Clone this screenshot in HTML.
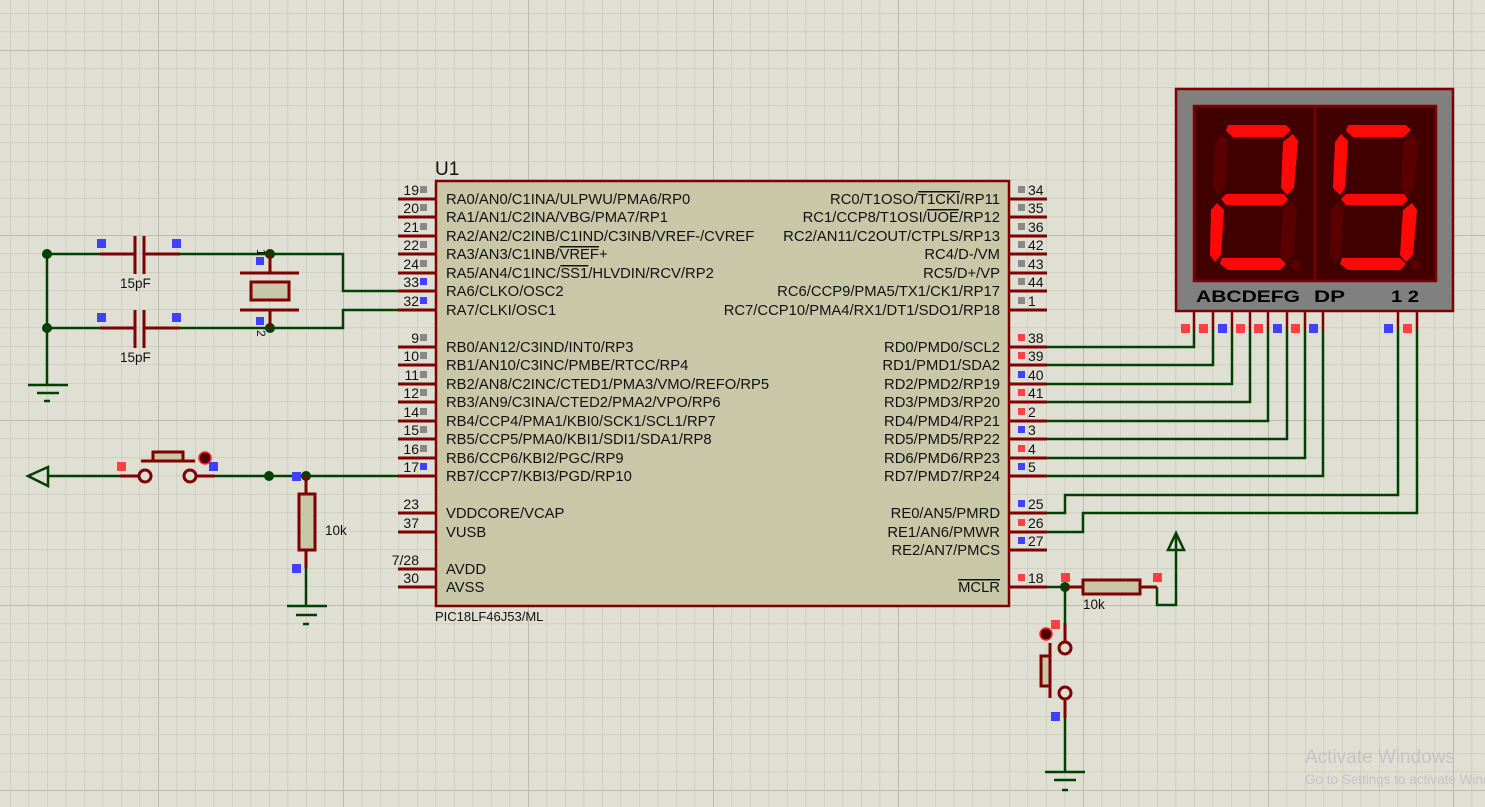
<!DOCTYPE html>
<html><head><meta charset="utf-8"><style>
html,body{margin:0;padding:0;background:#dfdfd3;}
svg{display:block;}
text{font-family:"Liberation Sans",Arial,sans-serif;fill:#111;}
</style></head><body>
<svg width="1485" height="807" viewBox="0 0 1485 807" xmlns="http://www.w3.org/2000/svg">
<defs>
<pattern id="g" x="10" y="13" width="18.5" height="18.5" patternUnits="userSpaceOnUse">
<path d="M0 0H18.5M0 0V18.5" stroke="#c6c6b8" stroke-width="1.3" fill="none"/>
</pattern>
<pattern id="G" x="158" y="50" width="185" height="185" patternUnits="userSpaceOnUse">
<path d="M0 0H185M0 0V185" stroke="#bcbcae" stroke-width="2" fill="none"/>
</pattern>
</defs>
<rect width="1485" height="807" fill="#dfdfd3"/>
<rect width="1485" height="807" fill="url(#g)"/>
<rect width="1485" height="807" fill="url(#G)"/>

<!-- chip -->
<rect x="436" y="181" width="573" height="425" fill="#c8c8a8" stroke="#7f0000" stroke-width="2.5"/>
<text x="435" y="175" font-size="19">U1</text>
<text x="435" y="621" font-size="13">PIC18LF46J53/ML</text>

<g stroke="#7f0000" stroke-width="3">
<path d="M398 199H436M398 217H436M398 236H436M398 254H436M398 273H436M398 291H436M398 310H436M398 347H436M398 365H436M398 384H436M398 402H436M398 421H436M398 439H436M398 458H436M398 476H436M398 513H436M398 532H436M398 569H436M398 587H436"/>
<path d="M1009 199H1047M1009 217H1047M1009 236H1047M1009 254H1047M1009 273H1047M1009 291H1047M1009 310H1047M1009 347H1047M1009 365H1047M1009 384H1047M1009 402H1047M1009 421H1047M1009 439H1047M1009 458H1047M1009 476H1047M1009 513H1047M1009 532H1047M1009 550H1047M1009 587H1047"/>
</g>

<g font-size="14.8">
<text x="446" y="204">RA0/AN0/C1INA/ULPWU/PMA6/RP0</text>
<text x="446" y="222">RA1/AN1/C2INA/VBG/PMA7/RP1</text>
<text x="446" y="241">RA2/AN2/C2INB/C1IND/C3INB/VREF-/CVREF</text>
<text x="446" y="259">RA3/AN3/C1INB/<tspan text-decoration="overline">VREF</tspan>+</text>
<text x="446" y="278">RA5/AN4/C1INC/<tspan text-decoration="overline">SS1</tspan>/HLVDIN/RCV/RP2</text>
<text x="446" y="296">RA6/CLKO/OSC2</text>
<text x="446" y="315">RA7/CLKI/OSC1</text>
<text x="446" y="352">RB0/AN12/C3IND/INT0/RP3</text>
<text x="446" y="370">RB1/AN10/C3INC/PMBE/RTCC/RP4</text>
<text x="446" y="389">RB2/AN8/C2INC/CTED1/PMA3/VMO/REFO/RP5</text>
<text x="446" y="407">RB3/AN9/C3INA/CTED2/PMA2/VPO/RP6</text>
<text x="446" y="426">RB4/CCP4/PMA1/KBI0/SCK1/SCL1/RP7</text>
<text x="446" y="444">RB5/CCP5/PMA0/KBI1/SDI1/SDA1/RP8</text>
<text x="446" y="463">RB6/CCP6/KBI2/PGC/RP9</text>
<text x="446" y="481">RB7/CCP7/KBI3/PGD/RP10</text>
<text x="446" y="518">VDDCORE/VCAP</text>
<text x="446" y="537">VUSB</text>
<text x="446" y="574">AVDD</text>
<text x="446" y="592">AVSS</text>
</g>
<g font-size="14.8" text-anchor="end">
<text x="1000" y="204">RC0/T1OSO/<tspan text-decoration="overline">T1CKI</tspan>/RP11</text>
<text x="1000" y="222">RC1/CCP8/T1OSI/<tspan text-decoration="overline">UOE</tspan>/RP12</text>
<text x="1000" y="241">RC2/AN11/C2OUT/CTPLS/RP13</text>
<text x="1000" y="259">RC4/D-/VM</text>
<text x="1000" y="278">RC5/D+/VP</text>
<text x="1000" y="296">RC6/CCP9/PMA5/TX1/CK1/RP17</text>
<text x="1000" y="315">RC7/CCP10/PMA4/RX1/DT1/SDO1/RP18</text>
<text x="1000" y="352">RD0/PMD0/SCL2</text>
<text x="1000" y="370">RD1/PMD1/SDA2</text>
<text x="1000" y="389">RD2/PMD2/RP19</text>
<text x="1000" y="407">RD3/PMD3/RP20</text>
<text x="1000" y="426">RD4/PMD4/RP21</text>
<text x="1000" y="444">RD5/PMD5/RP22</text>
<text x="1000" y="463">RD6/PMD6/RP23</text>
<text x="1000" y="481">RD7/PMD7/RP24</text>
<text x="1000" y="518">RE0/AN5/PMRD</text>
<text x="1000" y="537">RE1/AN6/PMWR</text>
<text x="1000" y="555">RE2/AN7/PMCS</text>
<text x="1000" y="592"><tspan text-decoration="overline">MCLR</tspan></text>
</g>

<!-- pin numbers -->
<g font-size="14" text-anchor="end">
<text x="419" y="195">19</text><text x="419" y="213">20</text><text x="419" y="232">21</text><text x="419" y="250">22</text><text x="419" y="269">24</text><text x="419" y="287">33</text><text x="419" y="306">32</text>
<text x="419" y="343">9</text><text x="419" y="361">10</text><text x="419" y="380">11</text><text x="419" y="398">12</text><text x="419" y="417">14</text><text x="419" y="435">15</text><text x="419" y="454">16</text><text x="419" y="472">17</text>
<text x="419" y="509">23</text><text x="419" y="528">37</text><text x="419" y="565">7/28</text><text x="419" y="583">30</text>
</g>
<g font-size="14">
<text x="1028" y="195">34</text><text x="1028" y="213">35</text><text x="1028" y="232">36</text><text x="1028" y="250">42</text><text x="1028" y="269">43</text><text x="1028" y="287">44</text><text x="1028" y="306">1</text>
<text x="1028" y="343">38</text><text x="1028" y="361">39</text><text x="1028" y="380">40</text><text x="1028" y="398">41</text><text x="1028" y="417">2</text><text x="1028" y="435">3</text><text x="1028" y="454">4</text><text x="1028" y="472">5</text>
<text x="1028" y="509">25</text><text x="1028" y="528">26</text><text x="1028" y="546">27</text><text x="1028" y="583">18</text>
</g>
<!-- pin squares -->
<g>
<g fill="#888"><rect x="420" y="186" width="7" height="7"/><rect x="420" y="204" width="7" height="7"/><rect x="420" y="223" width="7" height="7"/><rect x="420" y="241" width="7" height="7"/><rect x="420" y="260" width="7" height="7"/>
<rect x="420" y="334" width="7" height="7"/><rect x="420" y="352" width="7" height="7"/><rect x="420" y="371" width="7" height="7"/><rect x="420" y="389" width="7" height="7"/><rect x="420" y="408" width="7" height="7"/><rect x="420" y="426" width="7" height="7"/><rect x="420" y="445" width="7" height="7"/>
<rect x="1018" y="186" width="7" height="7"/><rect x="1018" y="204" width="7" height="7"/><rect x="1018" y="223" width="7" height="7"/><rect x="1018" y="241" width="7" height="7"/><rect x="1018" y="260" width="7" height="7"/><rect x="1018" y="278" width="7" height="7"/><rect x="1018" y="297" width="7" height="7"/></g>
<g fill="#4040ff"><rect x="420" y="278" width="7" height="7"/><rect x="420" y="297" width="7" height="7"/><rect x="420" y="463" width="7" height="7"/>
<rect x="1018" y="371" width="7" height="7"/><rect x="1018" y="426" width="7" height="7"/><rect x="1018" y="463" width="7" height="7"/><rect x="1018" y="500" width="7" height="7"/><rect x="1018" y="537" width="7" height="7"/></g>
<g fill="#ff4040"><rect x="1018" y="334" width="7" height="7"/><rect x="1018" y="352" width="7" height="7"/><rect x="1018" y="389" width="7" height="7"/><rect x="1018" y="408" width="7" height="7"/><rect x="1018" y="445" width="7" height="7"/><rect x="1018" y="519" width="7" height="7"/><rect x="1018" y="574" width="7" height="7"/></g>
</g>

<!-- green wires -->
<g stroke="#004000" stroke-width="2.5" fill="none">
<path d="M47 254V385M47 254H100M180 254H343V291H398M47 328H100M180 328H343V310H398"/>
<path d="M48 476H120M215 476H306H398M306 568V606"/>
<path d="M1047 347H1194V330M1047 365H1213V330M1047 384H1232V330M1047 402H1250V330M1047 421H1268V330M1047 439H1287V330M1047 458H1305V330M1047 476H1323V330"/>
<path d="M1047 513H1065V495H1398V330M1047 532H1083V513H1417V330"/>
<path d="M1047 587H1065M1065 587V623M1065 718V772M1157 587V605H1176V550"/>
<path d="M1176 550V534M1168 550L1176 533L1184 550Z"/>
<path d="M28 476L48 467V486Z"/>
<path d="M28 385H68M37 393H59M44 401H50"/>
<path d="M287 606H327M296 615H317M303 624H309"/>
<path d="M1045 772H1085M1054 780H1076M1062 790H1068"/>
</g>
<g fill="#004000">
<circle cx="47" cy="254" r="5"/><circle cx="47" cy="328" r="5"/><circle cx="270" cy="254" r="5"/><circle cx="270" cy="328" r="5"/>
<circle cx="269" cy="476" r="5"/><circle cx="306" cy="476" r="5"/><circle cx="1065" cy="587" r="5"/>
</g>

<!-- red components -->
<g stroke="#7f0000" stroke-width="3" fill="none">
<path d="M100 254H135M135 236V274M144 236V274M144 254H180"/>
<path d="M100 328H135M135 310V348M144 310V348M144 328H180"/>
<path d="M270 254V273M240 273H299M240 310H299M270 310V328"/>
<rect x="251" y="282" width="38" height="18" fill="#c8c8a8"/>
<path d="M120 476H139M196 476H215M141 461H195"/>
<rect x="153" y="452" width="30" height="9" fill="#c8c8a8"/>
<circle cx="145" cy="476" r="6" fill="#dfdfd3"/><circle cx="190" cy="476" r="6" fill="#dfdfd3"/>
<path d="M306 476V494M306 550V568"/>
<rect x="299" y="494" width="16" height="56" fill="#c8c8a8"/>
<path d="M1065 587H1083M1140 587H1157"/>
<rect x="1083" y="580" width="57" height="14" fill="#c8c8a8"/>
<path d="M1065 623V642M1065 699V718M1050 643V698"/>
<rect x="1041" y="656" width="9" height="30" fill="#c8c8a8"/>
<circle cx="1065" cy="648" r="6" fill="#dfdfd3"/><circle cx="1065" cy="693" r="6" fill="#dfdfd3"/>
</g>
<g fill="#4a0000" stroke="#ff2020" stroke-width="1.5"><circle cx="205" cy="458" r="6"/><circle cx="1046" cy="634" r="6"/></g>
<g fill="#4040ff"><rect x="97" y="239" width="9" height="9"/><rect x="172" y="239" width="9" height="9"/><rect x="97" y="313" width="9" height="9"/><rect x="172" y="313" width="9" height="9"/><rect x="256" y="257" width="8" height="8"/><rect x="256" y="317" width="8" height="8"/>
<rect x="209" y="462" width="9" height="9" /><rect x="292" y="472" width="9" height="9"/><rect x="292" y="564" width="9" height="9"/><rect x="1051" y="712" width="9" height="9"/></g>
<g fill="#ff4040"><rect x="117" y="462" width="9" height="9"/><rect x="1061" y="573" width="9" height="9"/><rect x="1153" y="573" width="9" height="9"/><rect x="1051" y="620" width="9" height="9"/></g>
<g font-size="13.5"><text x="120" y="288">15pF</text><text x="120" y="362">15pF</text><text x="325" y="535">10k</text><text x="1083" y="609">10k</text></g>
<text x="0" y="0" font-size="12" transform="translate(257,249) rotate(90)">1</text>
<text x="0" y="0" font-size="12" transform="translate(257,330) rotate(90)">2</text>

<!-- display -->
<rect x="1176" y="89" width="277" height="222" fill="#808080" stroke="#7f0000" stroke-width="2.5"/>
<rect x="1194" y="106" width="242" height="175" fill="#400000" stroke="#7f0000" stroke-width="2.5"/>
<path d="M1315 106V281" stroke="#7f0000" stroke-width="2.5"/>
<g fill="#ff0808">
<!-- digit 2: a b g e d -->
<polygon points="1228,125 1286,125 1291,130 1284,137 1233,137 1226,131"/>
<polygon points="1293,134 1298,141 1294,188 1287,195 1281,188 1283,142"/>
<polygon points="1226,194 1284,194 1288,199 1283,205 1226,205 1221,199"/>
<polygon points="1217,203 1224,210 1221,255 1215,262 1210,255 1211,210"/>
<polygon points="1222,258 1280,258 1286,264 1280,270 1228,270 1220,264"/>
<!-- digit 5: a f g c d -->
<polygon points="1348,125 1406,125 1411,130 1404,137 1353,137 1346,131"/>
<polygon points="1341,134 1348,141 1345,188 1340,195 1333,188 1335,142"/>
<polygon points="1346,194 1404,194 1408,199 1403,205 1346,205 1341,199"/>
<polygon points="1412,203 1417,210 1413,255 1406,262 1400,255 1403,210"/>
<polygon points="1342,258 1400,258 1406,264 1400,270 1348,270 1340,264"/>
</g>
<g fill="#5a0000">
<polygon points="1221,134 1228,141 1225,188 1220,195 1213,188 1215,142"/>
<polygon points="1292,203 1297,210 1293,255 1286,262 1280,255 1283,210"/>
<polygon points="1413,134 1418,141 1414,188 1407,195 1401,188 1403,142"/>
<polygon points="1337,203 1344,210 1341,255 1335,262 1330,255 1331,210"/>
<circle cx="1296" cy="265" r="5"/><circle cx="1416" cy="265" r="5"/>
</g>
<text x="1196" y="302" font-size="17" font-weight="bold" style="fill:#000" textLength="104" lengthAdjust="spacingAndGlyphs">ABCDEFG</text>
<text x="1314" y="302" font-size="17" font-weight="bold" style="fill:#000" textLength="31" lengthAdjust="spacingAndGlyphs">DP</text>
<text x="1391" y="302" font-size="17" font-weight="bold" style="fill:#000" textLength="28" lengthAdjust="spacingAndGlyphs">1 2</text>
<g stroke="#7f0000" stroke-width="2.5"><path d="M1194 311V330M1213 311V330M1232 311V330M1250 311V330M1268 311V330M1287 311V330M1305 311V330M1323 311V330M1398 311V330M1417 311V330"/></g>
<g fill="#ff4040"><rect x="1181" y="324" width="9" height="9"/><rect x="1199" y="324" width="9" height="9"/><rect x="1236" y="324" width="9" height="9"/><rect x="1254" y="324" width="9" height="9"/><rect x="1291" y="324" width="9" height="9"/><rect x="1403" y="324" width="9" height="9"/></g>
<g fill="#4040ff"><rect x="1218" y="324" width="9" height="9"/><rect x="1273" y="324" width="9" height="9"/><rect x="1309" y="324" width="9" height="9"/><rect x="1384" y="324" width="9" height="9"/></g>

<text x="1305" y="763" font-size="19" style="fill:#c4c4c4">Activate Windows</text>
<text x="1305" y="784" font-size="13.5" style="fill:#c4c4c4">Go to Settings to activate Windows.</text>
</svg>
</body></html>
